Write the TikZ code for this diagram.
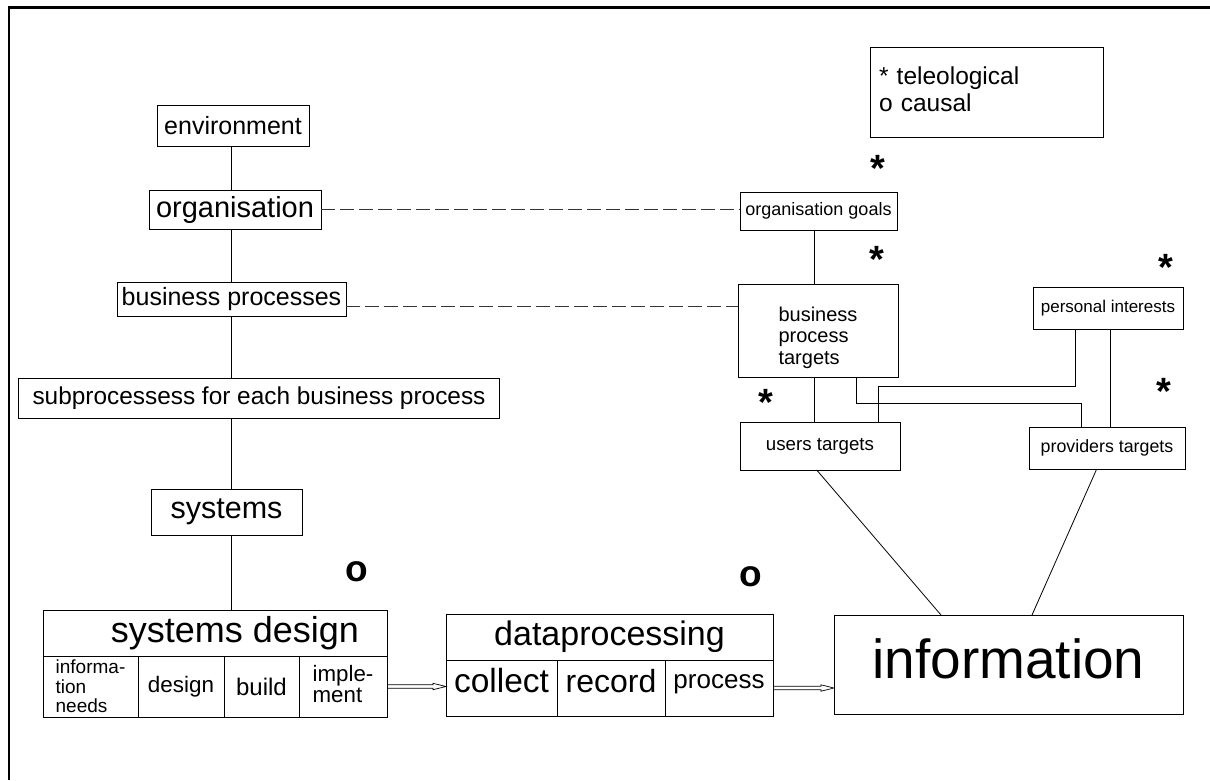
\documentclass[tikz,border=0pt]{standalone}
\usepackage{fontspec}
\setmainfont{Liberation Sans}
\usetikzlibrary{calc}
\newcommand{\myfs}[1]{\fontsize{#1}{#1}\selectfont}
\newcommand{\myfsl}[2]{\fontsize{#1}{#2}\selectfont}
\begin{document}
\begin{tikzpicture}[x=1pt,y=-1pt,
  box/.style={draw, line width=0.8pt, inner sep=0pt, outer sep=0pt},
  link/.style={line width=0.8pt},
  dashlink/.style={line width=0.9pt, dash pattern=on 14pt off 5pt, draw=black!80},
  sym/.style={font=\bfseries\myfs{38}, anchor=base, inner sep=0pt},
  hollow/.style={line width=0.7pt, line join=miter}
]
\useasboundingbox (0,0) rectangle (1210,780);
\draw[line width=2.5pt] (9,780) -- (9,7.5) -- (1210,7.5);

% left column
\node[box, minimum width=152, minimum height=41, font=\myfs{25}] (env) at (233,126) {environment};
\node[box, minimum width=172, minimum height=39, font=\myfs{29}] (org) at (235,209.5) {organisation};
\node[box, minimum width=229, minimum height=34, font=\myfs{25}] (bp) at (231.5,299) {business processes};
\node[box, minimum width=481, minimum height=40, font=\myfs{24.4}] (sub) at (259,398) {subprocessess for each business process};
\node[box, minimum width=151, minimum height=46, font=\myfs{30.5}] (sys) at (226.5,512) {systems};

% systems design
\node[box, minimum width=344, minimum height=46, font=\myfs{36}] (sdt) at (215,633) {\hspace{40pt}systems design};
\node[box, minimum width=95, minimum height=61, font=\myfsl{19}{19.5}, align=left] (inf) at (90.5,686.5) {informa-\\tion\\needs};
\node[box, minimum width=86, minimum height=61, font=\myfs{22.4}] (des) at (181,686.5) {design};
\node[box, minimum width=75, minimum height=61, font=\myfs{24}] (bui) at (261.5,686.5) {build};
\node[box, minimum width=88, minimum height=61, font=\myfsl{22.3}{21}, align=left] (imp) at (343,686.5) {imple-\\ment\rule[-6pt]{0pt}{1pt}};

% dataprocessing
\node[box, minimum width=327, minimum height=46, font=\myfs{34}] (dpt) at (609.5,637) {dataprocessing\hspace{18pt}};
\node[box, minimum width=111, minimum height=56, font=\myfs{33.5}, text height=24, text depth=16] (col) at (501.5,688) {collect};
\node[box, minimum width=108, minimum height=56, font=\myfs{32}, text height=24, text depth=16] (rec) at (611,688) {record};
\node[box, minimum width=108, minimum height=56, font=\myfs{26}, text height=14, text depth=14] (pro) at (719,688) {process};

% information
\node[box, minimum width=349, minimum height=99, font=\myfs{55}, text height=40, text depth=13] (info) at (1008.5,664.5) {information};

% legend
\node[box, minimum width=233, minimum height=90, text width=215, inner xsep=9, align=left, font=\myfsl{24.5}{27}, anchor=north west] (leg) at (870,47) {* teleological\\o causal\rule[-6pt]{0pt}{1pt}};

% right column
\node[box, minimum width=157, minimum height=38, font=\myfs{18}] (og) at (818.5,211) {organisation goals};
\node[box, minimum width=160, minimum height=93, font=\myfsl{20}{21.7}, align=left] (bpt) at (818,330.5) {\rule{0pt}{28.6pt}business\\process\\targets};
\node[box, minimum width=150, minimum height=42, font=\myfs{17}] (pi) at (1108,308) {personal interests};
\node[box, minimum width=160, minimum height=48, font=\myfs{18.7}] (ut) at (820,446) {users targets};
\node[box, minimum width=156, minimum height=42, font=\myfs{17.8}] (pt) at (1107,448) {providers targets};

% marks
\node[sym] (m1) at (878,181) {*};
\node[sym] (m2) at (877,272) {*};
\node[sym] (m3) at (1166,280) {*};
\node[sym] (m4) at (766,415) {*};
\node[sym] (m5) at (1164,404) {*};
\node[sym, font=\bfseries\myfs{37}] (o1) at (357,581) {o};
\node[sym, font=\bfseries\myfs{37}] (o2) at (751,586) {o};

% spine
\coordinate (sp) at (231.5,0);
\draw[link] (env.south -| sp) -- (org.north -| sp);
\draw[link] (org.south -| sp) -- (bp.north -| sp);
\draw[link] (bp.south -| sp) -- (sub.north -| sp);
\draw[link] (sub.south -| sp) -- (sys.north -| sp);
\draw[link] (sys.south -| sp) -- (sdt.north -| sp);

% dashed
\draw[dashlink] (org.east) -- (org.east -| og.west);
\coordinate (dl) at (0,306);
\draw[dashlink] (bp.east |- dl) -- (bpt.west |- dl);

% right links
\coordinate (rx) at (814,0);
\draw[link] (og.south -| rx) -- (bpt.north -| rx);
\draw[link] (bpt.south -| rx) -- (ut.north -| rx);
\coordinate (ra) at (856,0);
\coordinate (rb) at (1081.7,403.3);
\draw[link] (bpt.south -| ra) |- (rb) -- (rb |- pt.north);
\coordinate (pa) at (1075,0);
\coordinate (pb) at (878.3,386.7);
\draw[link] (pi.south -| pa) |- (pb) -- (pb |- ut.north);
\coordinate (pc) at (1110.7,0);
\draw[link] (pi.south -| pc) -- (pt.north -| pc);
\coordinate (u1) at (816.7,0);
\coordinate (u2) at (941,0);
\draw[link] (ut.south -| u1) -- (info.north -| u2);
\coordinate (v1) at (1096.7,0);
\coordinate (v2) at (1032,0);
\draw[link] (pt.south -| v1) -- (info.north -| v2);

% hollow arrows
\coordinate (e1) at (imp.east -| col.west);
\draw[hollow] ($(imp.east)+(0,-1.7)$) -- ($(e1)+(-13,-1.7)$) -- ($(e1)+(-13,-3.2)$) -- (e1) -- ($(e1)+(-13,3.2)$) -- ($(e1)+(-13,1.7)$) -- ($(imp.east)+(0,1.7)$);
\coordinate (e2) at (pro.east -| info.west);
\draw[hollow] ($(pro.east)+(0,-1.7)$) -- ($(e2)+(-13,-1.7)$) -- ($(e2)+(-13,-3.2)$) -- (e2) -- ($(e2)+(-13,3.2)$) -- ($(e2)+(-13,1.7)$) -- ($(pro.east)+(0,1.7)$);
\end{tikzpicture}
\end{document}
